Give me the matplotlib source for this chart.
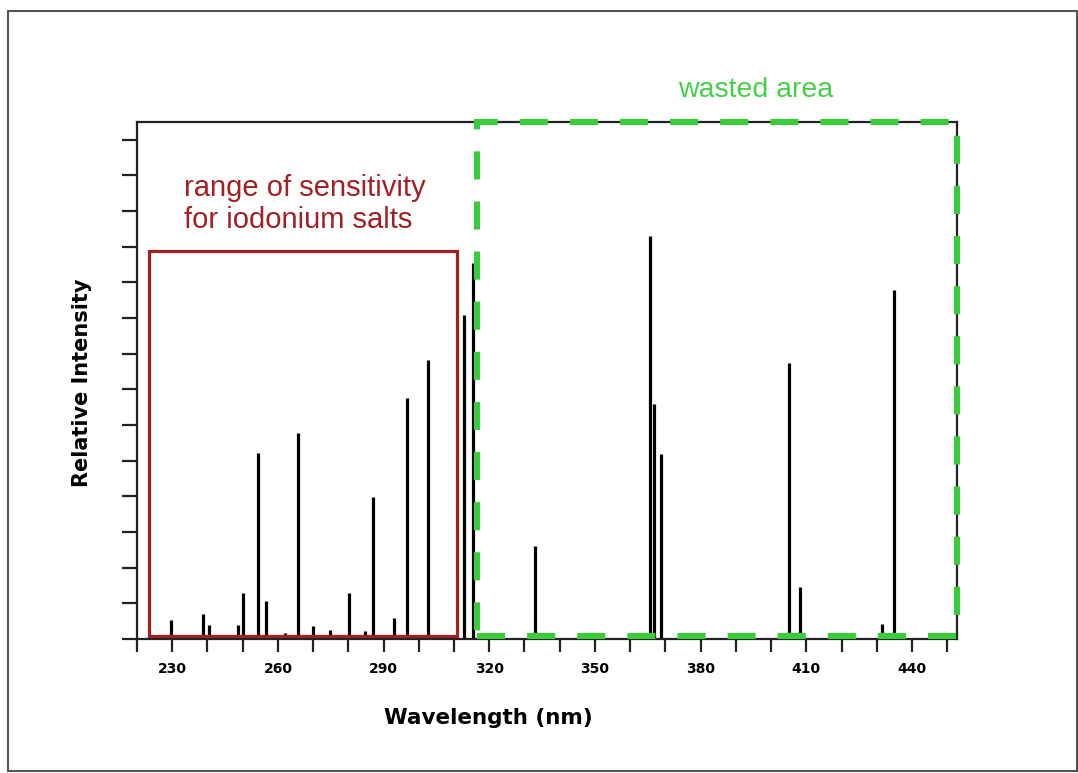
import matplotlib
matplotlib.use("Agg")
import matplotlib.pyplot as plt
from matplotlib.patches import Rectangle

# emission lines of the mercury lamp
wavelengths = [229.7, 238.7, 240.4, 248.6, 250.1, 254.4, 256.6, 262.0, 265.7,
               269.9, 274.7, 280.1, 284.8, 287.0, 293.0, 296.6, 302.7, 312.7,
               315.4, 332.9, 365.6, 366.7, 368.7, 405.2, 408.2, 431.5, 434.9]
intensities = [0.53, 0.69, 0.39, 0.39, 1.28, 5.21, 1.06, 0.17, 5.78,
               0.36, 0.25, 1.28, 0.23, 3.97, 0.58, 6.77, 7.83, 9.10,
               10.55, 2.61, 11.29, 6.58, 5.20, 7.74, 1.46, 0.41, 9.78]
tick_labels = [230, 260, 290, 320, 350, 380, 410, 440]

red = "#a31f24"
green = "#3acd3a"

fig = plt.figure(figsize=(10.78, 7.73), dpi=100)
ax = fig.add_axes([0.1271, 0.1734, 0.7607, 0.6688])

ax.vlines(wavelengths, 0, intensities, color="black", lw=2.3)

ax.set_xlim(220.3, 452.8)
ax.set_ylim(0, 14.5)
ax.set_xticks(range(220, 451, 10), minor=True)
ax.set_xticks(tick_labels)
ax.set_xticklabels([str(t) for t in tick_labels], fontweight="bold", fontsize=10)
ax.set_yticks(range(0, 15))
ax.set_yticklabels([])
ax.tick_params(axis="x", which="both", direction="out", length=9.5, width=1.6,
               pad=7, color="#222222")
ax.tick_params(axis="y", direction="out", length=10.5, width=1.6, color="#222222")
for s in ax.spines.values():
    s.set_linewidth(1.6)
    s.set_color("#222222")

ax.set_xlabel("Wavelength (nm)", fontsize=15.5, fontweight="bold")
ax.xaxis.set_label_coords(0.429, -0.153)
ax.xaxis.label.set_va("center")
ax.set_ylabel("Relative Intensity", fontsize=15, fontweight="bold")
ax.yaxis.set_label_coords(-0.067, 0.495)
ax.yaxis.label.set_va("center")

# red box: sensitivity range
ax.add_patch(Rectangle((223.5, 0.08), 310.8 - 223.5, 10.87 - 0.08, fill=False,
                       edgecolor=red, lw=2.3, clip_on=False, zorder=3))
ax.text(233.4, 12.2, "range of sensitivity\nfor iodonium salts", color=red,
        fontsize=21, family="Liberation Sans", ha="left", va="center",
        linespacing=1.2)

# green dashed box: wasted area
ax.add_patch(Rectangle((316.4, 0.08), 452.8 - 316.4, 14.5 - 0.08, fill=False,
                       edgecolor=green, lw=4.4, linestyle=(0, (4.6, 3.6)),
                       clip_on=False, zorder=4))
ax.text(395.5, 15.4, "wasted area", color="#45d045", fontsize=20.5,
        family="Liberation Sans", ha="center", va="center", clip_on=False)

# outer frame of the picture
fig.add_artist(Rectangle((8 / 1078, 2 / 773), 1 - 9 / 1078, 760 / 773,
                         transform=fig.transFigure, fill=False,
                         edgecolor="#555555", lw=1.5))

fig.savefig("out.png", dpi=100)
